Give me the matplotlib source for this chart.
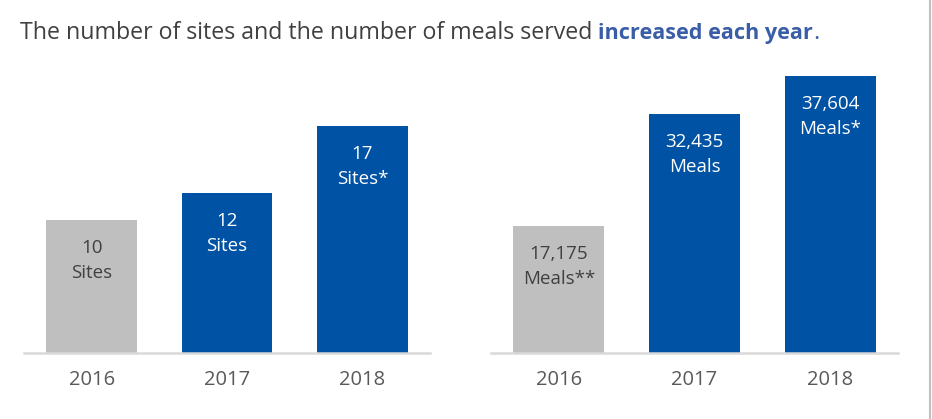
import matplotlib
matplotlib.use("Agg")
import matplotlib.pyplot as plt
from matplotlib.lines import Line2D

# ---- data ----
years = ["2016", "2017", "2018"]
sites = [10, 12, 17]
site_labels = ["10\nSites", "12\nSites", "17\nSites*"]
meals = [17175, 32435, 37604]
meal_labels = ["17,175\nMeals**", "32,435\nMeals", "37,604\nMeals*"]
title_plain = "The number of sites and the number of meals served"
title_bold = "increased each year"

GRAY = "#BFBFBF"
BLUE = "#0052A5"
colors = [GRAY, BLUE, BLUE]
text_colors = ["#404040", "white", "white"]

FONT = "Open Sans"
plt.rcParams["font.family"] = [FONT, "DejaVu Sans"]

W, H = 932, 419
fig = plt.figure(figsize=(W / 100, H / 100), dpi=100)

def ax_rect(x0, x1, ytop, ybot):
    return [x0 / W, (H - ybot) / H, (x1 - x0) / W, (ybot - ytop) / H]

axL = fig.add_axes(ax_rect(24, 430, 60, 353))
axR = fig.add_axes(ax_rect(491, 898, 60, 353))

def draw(ax, vals, labels, ytop):
    x = range(len(vals))
    ax.bar(x, vals, width=0.67, color=colors, zorder=2)
    ax.set_xlim(-0.5, 2.5)
    ax.set_ylim(0, ytop)
    ax.set_xticks(list(x))
    ax.set_xticklabels(years, fontsize=14.5, color="#595959")
    ax.tick_params(axis="x", length=0, pad=12)
    ax.set_yticks([])
    for s in ["left", "right", "top"]:
        ax.spines[s].set_visible(False)
    ax.spines["bottom"].set_color("#D9D9D9")
    ax.spines["bottom"].set_linewidth(1.8)
    for i, (v, lab) in enumerate(zip(vals, labels)):
        ax.annotate(lab, xy=(i, v), xytext=(0, -19 * 0.72),
                    textcoords="offset points", ha="center", va="top",
                    fontsize=13.5, color=text_colors[i], linespacing=1.5)

draw(axL, sites, site_labels, 293 / 13.33)
draw(axR, meals, meal_labels, 293 / 0.007366)

# ---- title ----
TY = (H - 33) / H
fig.canvas.draw()
r = fig.canvas.get_renderer()
t = fig.text(20 / W, TY, title_plain, fontsize=10, color="#404040",
             va="center", ha="left")
w10 = t.get_window_extent(r).width
fs = 10 * 572 / w10
t.set_fontsize(fs)
fig.canvas.draw()
bb = t.get_window_extent(r)
tb = fig.text((bb.x1 + 6) / W, TY, title_bold, fontsize=10,
              fontweight="bold", color="#3A5DA8", va="center", ha="left")
fig.canvas.draw()
wb10 = tb.get_window_extent(r).width
fsb = 10 * 215 / wb10
tb.set_fontsize(fsb)
fig.canvas.draw()
bb2 = tb.get_window_extent(r)
fig.text(bb2.x1 / W, TY, ".", fontsize=fs, color="#3A5DA8",
         va="center", ha="left")

# right frame line
fig.add_artist(Line2D([930 / W, 930 / W], [0, 1], color="#BFBFBF", lw=1.5,
                      transform=fig.transFigure))

fig.savefig("out.png", dpi=100)
